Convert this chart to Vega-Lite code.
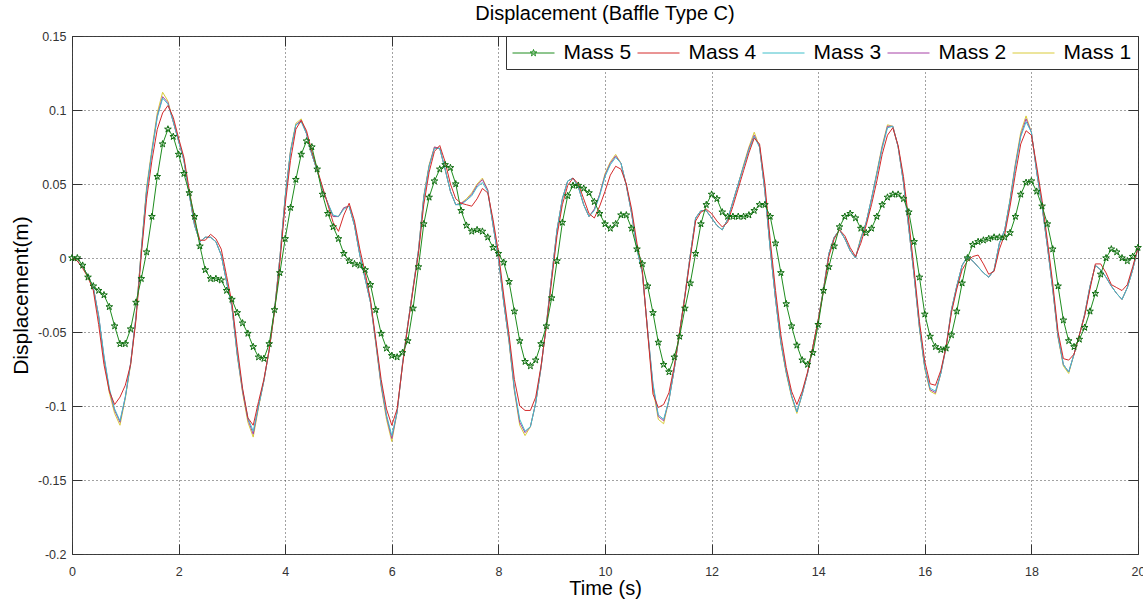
{
"$schema": "https://vega.github.io/schema/vega-lite/v6.json",
"width": 1066, "height": 518,
"autosize": {"type": "none"},
"padding": {"left": 72, "top": 36, "right": 5, "bottom": 46},
"background": "white",
"config": {"view": {"stroke": "#3a3a3a", "strokeWidth": 1}, "font": "Liberation Sans"},
"title": {"text": "Displacement (Baffle Type C)", "fontSize": 20, "fontWeight": "normal", "color": "black", "frame": "group", "anchor": "middle", "offset": 6, "font": "Liberation Sans"},
"data": {"values": [
{"t":0.0,"m1":0,"m2":0,"m3":0,"m4":0,"m5":0},
{"t":0.1,"m1":-0.002,"m2":-0.002,"m3":-0.002,"m4":-0.002,"m5":0},
{"t":0.2,"m1":-0.006,"m2":-0.006,"m3":-0.006,"m4":-0.007,"m5":-0.005},
{"t":0.3,"m1":-0.012,"m2":-0.012,"m3":-0.012,"m4":-0.013,"m5":-0.013},
{"t":0.4,"m1":-0.020,"m2":-0.020,"m3":-0.020,"m4":-0.022,"m5":-0.019},
{"t":0.5,"m1":-0.040,"m2":-0.039,"m3":-0.039,"m4":-0.045,"m5":-0.022},
{"t":0.6,"m1":-0.068,"m2":-0.067,"m3":-0.066,"m4":-0.072,"m5":-0.025},
{"t":0.7,"m1":-0.091,"m2":-0.089,"m3":-0.088,"m4":-0.090,"m5":-0.033},
{"t":0.8,"m1":-0.105,"m2":-0.103,"m3":-0.102,"m4":-0.099,"m5":-0.046},
{"t":0.9,"m1":-0.113,"m2":-0.111,"m3":-0.110,"m4":-0.094,"m5":-0.058},
{"t":1.0,"m1":-0.095,"m2":-0.094,"m3":-0.094,"m4":-0.086,"m5":-0.058},
{"t":1.1,"m1":-0.072,"m2":-0.071,"m3":-0.071,"m4":-0.072,"m5":-0.048},
{"t":1.2,"m1":-0.040,"m2":-0.040,"m3":-0.040,"m4":-0.042,"m5":-0.030},
{"t":1.3,"m1":0.006,"m2":0.005,"m3":0.005,"m4":0.002,"m5":-0.014},
{"t":1.4,"m1":0.048,"m2":0.046,"m3":0.046,"m4":0.040,"m5":0.004},
{"t":1.5,"m1":0.074,"m2":0.072,"m3":0.072,"m4":0.066,"m5":0.028},
{"t":1.6,"m1":0.098,"m2":0.096,"m3":0.095,"m4":0.087,"m5":0.055},
{"t":1.7,"m1":0.112,"m2":0.109,"m3":0.108,"m4":0.098,"m5":0.077},
{"t":1.8,"m1":0.106,"m2":0.105,"m3":0.104,"m4":0.103,"m5":0.087},
{"t":1.9,"m1":0.092,"m2":0.092,"m3":0.092,"m4":0.095,"m5":0.082},
{"t":2.0,"m1":0.079,"m2":0.079,"m3":0.079,"m4":0.081,"m5":0.070},
{"t":2.1,"m1":0.066,"m2":0.066,"m3":0.066,"m4":0.068,"m5":0.057},
{"t":2.2,"m1":0.043,"m2":0.043,"m3":0.043,"m4":0.046,"m5":0.044},
{"t":2.3,"m1":0.022,"m2":0.022,"m3":0.022,"m4":0.025,"m5":0.028},
{"t":2.4,"m1":0.011,"m2":0.011,"m3":0.011,"m4":0.012,"m5":0.008},
{"t":2.5,"m1":0.014,"m2":0.014,"m3":0.014,"m4":0.012,"m5":-0.008},
{"t":2.6,"m1":0.014,"m2":0.014,"m3":0.014,"m4":0.016,"m5":-0.014},
{"t":2.7,"m1":0.011,"m2":0.011,"m3":0.011,"m4":0.013,"m5":-0.014},
{"t":2.8,"m1":0.002,"m2":0.002,"m3":0.002,"m4":0.006,"m5":-0.015},
{"t":2.9,"m1":-0.016,"m2":-0.016,"m3":-0.016,"m4":-0.012,"m5":-0.022},
{"t":3.0,"m1":-0.033,"m2":-0.033,"m3":-0.033,"m4":-0.030,"m5":-0.028},
{"t":3.1,"m1":-0.066,"m2":-0.065,"m3":-0.065,"m4":-0.060,"m5":-0.037},
{"t":3.2,"m1":-0.091,"m2":-0.090,"m3":-0.089,"m4":-0.088,"m5":-0.044},
{"t":3.3,"m1":-0.111,"m2":-0.109,"m3":-0.108,"m4":-0.108,"m5":-0.051},
{"t":3.4,"m1":-0.121,"m2":-0.119,"m3":-0.117,"m4":-0.113,"m5":-0.060},
{"t":3.5,"m1":-0.101,"m2":-0.100,"m3":-0.100,"m4":-0.097,"m5":-0.067},
{"t":3.6,"m1":-0.083,"m2":-0.083,"m3":-0.083,"m4":-0.082,"m5":-0.068},
{"t":3.7,"m1":-0.062,"m2":-0.062,"m3":-0.062,"m4":-0.062,"m5":-0.058},
{"t":3.8,"m1":-0.035,"m2":-0.035,"m3":-0.035,"m4":-0.036,"m5":-0.035},
{"t":3.9,"m1":0.000,"m2":0.000,"m3":0.000,"m4":-0.003,"m5":-0.010},
{"t":4.0,"m1":0.042,"m2":0.041,"m3":0.041,"m4":0.036,"m5":0.013},
{"t":4.1,"m1":0.073,"m2":0.072,"m3":0.072,"m4":0.066,"m5":0.034},
{"t":4.2,"m1":0.091,"m2":0.090,"m3":0.090,"m4":0.087,"m5":0.053},
{"t":4.3,"m1":0.094,"m2":0.093,"m3":0.092,"m4":0.093,"m5":0.070},
{"t":4.4,"m1":0.084,"m2":0.084,"m3":0.084,"m4":0.086,"m5":0.079},
{"t":4.5,"m1":0.070,"m2":0.070,"m3":0.070,"m4":0.072,"m5":0.075},
{"t":4.6,"m1":0.059,"m2":0.059,"m3":0.059,"m4":0.060,"m5":0.060},
{"t":4.7,"m1":0.047,"m2":0.047,"m3":0.047,"m4":0.048,"m5":0.043},
{"t":4.8,"m1":0.037,"m2":0.037,"m3":0.037,"m4":0.036,"m5":0.030},
{"t":4.9,"m1":0.028,"m2":0.028,"m3":0.029,"m4":0.024,"m5":0.021},
{"t":5.0,"m1":0.028,"m2":0.028,"m3":0.028,"m4":0.018,"m5":0.013},
{"t":5.1,"m1":0.034,"m2":0.034,"m3":0.033,"m4":0.029,"m5":0.003},
{"t":5.2,"m1":0.035,"m2":0.035,"m3":0.035,"m4":0.037,"m5":-0.002},
{"t":5.3,"m1":0.022,"m2":0.022,"m3":0.022,"m4":0.025,"m5":-0.004},
{"t":5.4,"m1":0.002,"m2":0.002,"m3":0.002,"m4":0.006,"m5":-0.005},
{"t":5.5,"m1":-0.014,"m2":-0.014,"m3":-0.014,"m4":-0.010,"m5":-0.008},
{"t":5.6,"m1":-0.030,"m2":-0.030,"m3":-0.030,"m4":-0.028,"m5":-0.018},
{"t":5.7,"m1":-0.058,"m2":-0.057,"m3":-0.057,"m4":-0.055,"m5":-0.035},
{"t":5.8,"m1":-0.087,"m2":-0.086,"m3":-0.085,"m4":-0.082,"m5":-0.051},
{"t":5.9,"m1":-0.109,"m2":-0.107,"m3":-0.106,"m4":-0.102,"m5":-0.061},
{"t":6.0,"m1":-0.124,"m2":-0.122,"m3":-0.120,"m4":-0.113,"m5":-0.066},
{"t":6.1,"m1":-0.104,"m2":-0.104,"m3":-0.104,"m4":-0.102,"m5":-0.067},
{"t":6.2,"m1":-0.072,"m2":-0.072,"m3":-0.072,"m4":-0.073,"m5":-0.064},
{"t":6.3,"m1":-0.045,"m2":-0.045,"m3":-0.045,"m4":-0.046,"m5":-0.056},
{"t":6.4,"m1":-0.020,"m2":-0.020,"m3":-0.020,"m4":-0.021,"m5":-0.034},
{"t":6.5,"m1":0.005,"m2":0.005,"m3":0.005,"m4":0.003,"m5":-0.006},
{"t":6.6,"m1":0.042,"m2":0.041,"m3":0.041,"m4":0.036,"m5":0.023},
{"t":6.7,"m1":0.063,"m2":0.062,"m3":0.062,"m4":0.058,"m5":0.041},
{"t":6.8,"m1":0.075,"m2":0.075,"m3":0.074,"m4":0.072,"m5":0.052},
{"t":6.9,"m1":0.074,"m2":0.074,"m3":0.074,"m4":0.076,"m5":0.060},
{"t":7.0,"m1":0.060,"m2":0.060,"m3":0.060,"m4":0.065,"m5":0.063},
{"t":7.1,"m1":0.045,"m2":0.045,"m3":0.045,"m4":0.050,"m5":0.061},
{"t":7.2,"m1":0.036,"m2":0.036,"m3":0.036,"m4":0.040,"m5":0.050},
{"t":7.3,"m1":0.037,"m2":0.037,"m3":0.036,"m4":0.037,"m5":0.032},
{"t":7.4,"m1":0.040,"m2":0.039,"m3":0.039,"m4":0.036,"m5":0.022},
{"t":7.5,"m1":0.044,"m2":0.043,"m3":0.042,"m4":0.035,"m5":0.018},
{"t":7.6,"m1":0.050,"m2":0.049,"m3":0.048,"m4":0.040,"m5":0.019},
{"t":7.7,"m1":0.054,"m2":0.053,"m3":0.051,"m4":0.047,"m5":0.018},
{"t":7.8,"m1":0.046,"m2":0.046,"m3":0.045,"m4":0.044,"m5":0.014},
{"t":7.9,"m1":0.022,"m2":0.022,"m3":0.022,"m4":0.026,"m5":0.007},
{"t":8.0,"m1":0.000,"m2":0.000,"m3":0.000,"m4":0.004,"m5":0.003},
{"t":8.1,"m1":-0.030,"m2":-0.030,"m3":-0.030,"m4":-0.025,"m5":-0.003},
{"t":8.2,"m1":-0.057,"m2":-0.056,"m3":-0.056,"m4":-0.052,"m5":-0.016},
{"t":8.3,"m1":-0.090,"m2":-0.089,"m3":-0.088,"m4":-0.082,"m5":-0.036},
{"t":8.4,"m1":-0.113,"m2":-0.111,"m3":-0.109,"m4":-0.100,"m5":-0.056},
{"t":8.5,"m1":-0.120,"m2":-0.118,"m3":-0.117,"m4":-0.103,"m5":-0.070},
{"t":8.6,"m1":-0.114,"m2":-0.114,"m3":-0.114,"m4":-0.103,"m5":-0.073},
{"t":8.7,"m1":-0.098,"m2":-0.098,"m3":-0.098,"m4":-0.094,"m5":-0.069},
{"t":8.8,"m1":-0.074,"m2":-0.074,"m3":-0.074,"m4":-0.073,"m5":-0.058},
{"t":8.9,"m1":-0.045,"m2":-0.045,"m3":-0.045,"m4":-0.046,"m5":-0.046},
{"t":9.0,"m1":-0.012,"m2":-0.012,"m3":-0.012,"m4":-0.015,"m5":-0.027},
{"t":9.1,"m1":0.019,"m2":0.019,"m3":0.019,"m4":0.015,"m5":-0.002},
{"t":9.2,"m1":0.040,"m2":0.040,"m3":0.040,"m4":0.036,"m5":0.024},
{"t":9.3,"m1":0.052,"m2":0.052,"m3":0.052,"m4":0.049,"m5":0.042},
{"t":9.4,"m1":0.054,"m2":0.054,"m3":0.054,"m4":0.054,"m5":0.049},
{"t":9.5,"m1":0.048,"m2":0.048,"m3":0.048,"m4":0.050,"m5":0.049},
{"t":9.6,"m1":0.036,"m2":0.036,"m3":0.036,"m4":0.040,"m5":0.047},
{"t":9.7,"m1":0.028,"m2":0.028,"m3":0.028,"m4":0.030,"m5":0.044},
{"t":9.8,"m1":0.033,"m2":0.033,"m3":0.032,"m4":0.027,"m5":0.038},
{"t":9.9,"m1":0.043,"m2":0.043,"m3":0.042,"m4":0.035,"m5":0.030},
{"t":10.0,"m1":0.057,"m2":0.056,"m3":0.055,"m4":0.045,"m5":0.023},
{"t":10.1,"m1":0.065,"m2":0.064,"m3":0.063,"m4":0.056,"m5":0.020},
{"t":10.2,"m1":0.070,"m2":0.069,"m3":0.068,"m4":0.062,"m5":0.023},
{"t":10.3,"m1":0.064,"m2":0.064,"m3":0.064,"m4":0.060,"m5":0.029},
{"t":10.4,"m1":0.049,"m2":0.049,"m3":0.049,"m4":0.050,"m5":0.029},
{"t":10.5,"m1":0.030,"m2":0.030,"m3":0.030,"m4":0.033,"m5":0.020},
{"t":10.6,"m1":0.006,"m2":0.006,"m3":0.006,"m4":0.010,"m5":0.006},
{"t":10.7,"m1":-0.010,"m2":-0.010,"m3":-0.010,"m4":-0.008,"m5":-0.004},
{"t":10.8,"m1":-0.050,"m2":-0.049,"m3":-0.049,"m4":-0.050,"m5":-0.019},
{"t":10.9,"m1":-0.088,"m2":-0.086,"m3":-0.085,"m4":-0.092,"m5":-0.037},
{"t":11.0,"m1":-0.109,"m2":-0.107,"m3":-0.106,"m4":-0.101,"m5":-0.057},
{"t":11.1,"m1":-0.112,"m2":-0.110,"m3":-0.109,"m4":-0.099,"m5":-0.072},
{"t":11.2,"m1":-0.096,"m2":-0.096,"m3":-0.096,"m4":-0.091,"m5":-0.077},
{"t":11.3,"m1":-0.075,"m2":-0.075,"m3":-0.075,"m4":-0.073,"m5":-0.067},
{"t":11.4,"m1":-0.050,"m2":-0.050,"m3":-0.050,"m4":-0.050,"m5":-0.053},
{"t":11.5,"m1":-0.025,"m2":-0.025,"m3":-0.025,"m4":-0.026,"m5":-0.034},
{"t":11.6,"m1":0.002,"m2":0.002,"m3":0.002,"m4":0.000,"m5":-0.017},
{"t":11.7,"m1":0.027,"m2":0.027,"m3":0.027,"m4":0.025,"m5":0.003},
{"t":11.8,"m1":0.032,"m2":0.032,"m3":0.032,"m4":0.031,"m5":0.023},
{"t":11.9,"m1":0.032,"m2":0.032,"m3":0.032,"m4":0.033,"m5":0.036},
{"t":12.0,"m1":0.027,"m2":0.027,"m3":0.027,"m4":0.030,"m5":0.043},
{"t":12.1,"m1":0.022,"m2":0.022,"m3":0.022,"m4":0.025,"m5":0.040},
{"t":12.2,"m1":0.019,"m2":0.019,"m3":0.019,"m4":0.021,"m5":0.031},
{"t":12.3,"m1":0.026,"m2":0.026,"m3":0.026,"m4":0.024,"m5":0.028},
{"t":12.4,"m1":0.038,"m2":0.038,"m3":0.038,"m4":0.035,"m5":0.028},
{"t":12.5,"m1":0.050,"m2":0.050,"m3":0.050,"m4":0.047,"m5":0.028},
{"t":12.6,"m1":0.063,"m2":0.062,"m3":0.062,"m4":0.059,"m5":0.028},
{"t":12.7,"m1":0.075,"m2":0.074,"m3":0.073,"m4":0.071,"m5":0.029},
{"t":12.8,"m1":0.085,"m2":0.083,"m3":0.082,"m4":0.081,"m5":0.032},
{"t":12.9,"m1":0.075,"m2":0.075,"m3":0.075,"m4":0.077,"m5":0.036},
{"t":13.0,"m1":0.045,"m2":0.045,"m3":0.045,"m4":0.050,"m5":0.036},
{"t":13.1,"m1":0.006,"m2":0.006,"m3":0.006,"m4":0.012,"m5":0.028},
{"t":13.2,"m1":-0.028,"m2":-0.028,"m3":-0.028,"m4":-0.022,"m5":0.010},
{"t":13.3,"m1":-0.058,"m2":-0.057,"m3":-0.057,"m4":-0.052,"m5":-0.010},
{"t":13.4,"m1":-0.078,"m2":-0.077,"m3":-0.077,"m4":-0.074,"m5":-0.031},
{"t":13.5,"m1":-0.094,"m2":-0.093,"m3":-0.093,"m4":-0.090,"m5":-0.046},
{"t":13.6,"m1":-0.105,"m2":-0.104,"m3":-0.104,"m4":-0.099,"m5":-0.059},
{"t":13.7,"m1":-0.092,"m2":-0.092,"m3":-0.092,"m4":-0.090,"m5":-0.069},
{"t":13.8,"m1":-0.078,"m2":-0.078,"m3":-0.078,"m4":-0.077,"m5":-0.072},
{"t":13.9,"m1":-0.060,"m2":-0.060,"m3":-0.060,"m4":-0.060,"m5":-0.064},
{"t":14.0,"m1":-0.042,"m2":-0.042,"m3":-0.042,"m4":-0.042,"m5":-0.045},
{"t":14.1,"m1":-0.021,"m2":-0.021,"m3":-0.021,"m4":-0.022,"m5":-0.022},
{"t":14.2,"m1":0.003,"m2":0.003,"m3":0.003,"m4":0.001,"m5":-0.006},
{"t":14.3,"m1":0.014,"m2":0.014,"m3":0.014,"m4":0.013,"m5":0.008},
{"t":14.4,"m1":0.019,"m2":0.019,"m3":0.019,"m4":0.019,"m5":0.021},
{"t":14.5,"m1":0.013,"m2":0.013,"m3":0.013,"m4":0.015,"m5":0.028},
{"t":14.6,"m1":0.005,"m2":0.005,"m3":0.005,"m4":0.007,"m5":0.030},
{"t":14.7,"m1":0.000,"m2":0.000,"m3":0.000,"m4":0.001,"m5":0.027},
{"t":14.8,"m1":0.014,"m2":0.013,"m3":0.013,"m4":0.010,"m5":0.020},
{"t":14.9,"m1":0.024,"m2":0.024,"m3":0.024,"m4":0.022,"m5":0.017},
{"t":15.0,"m1":0.040,"m2":0.040,"m3":0.040,"m4":0.036,"m5":0.020},
{"t":15.1,"m1":0.058,"m2":0.057,"m3":0.057,"m4":0.052,"m5":0.028},
{"t":15.2,"m1":0.076,"m2":0.075,"m3":0.074,"m4":0.070,"m5":0.036},
{"t":15.3,"m1":0.090,"m2":0.089,"m3":0.088,"m4":0.083,"m5":0.041},
{"t":15.4,"m1":0.089,"m2":0.089,"m3":0.089,"m4":0.088,"m5":0.043},
{"t":15.5,"m1":0.075,"m2":0.075,"m3":0.075,"m4":0.076,"m5":0.043},
{"t":15.6,"m1":0.051,"m2":0.051,"m3":0.051,"m4":0.055,"m5":0.040},
{"t":15.7,"m1":0.020,"m2":0.020,"m3":0.020,"m4":0.025,"m5":0.031},
{"t":15.8,"m1":-0.012,"m2":-0.012,"m3":-0.012,"m4":-0.008,"m5":0.011},
{"t":15.9,"m1":-0.048,"m2":-0.047,"m3":-0.047,"m4":-0.043,"m5":-0.013},
{"t":16.0,"m1":-0.075,"m2":-0.074,"m3":-0.074,"m4":-0.070,"m5":-0.038},
{"t":16.1,"m1":-0.090,"m2":-0.089,"m3":-0.088,"m4":-0.085,"m5":-0.053},
{"t":16.2,"m1":-0.092,"m2":-0.091,"m3":-0.090,"m4":-0.086,"m5":-0.060},
{"t":16.3,"m1":-0.078,"m2":-0.078,"m3":-0.078,"m4":-0.076,"m5":-0.062},
{"t":16.4,"m1":-0.060,"m2":-0.060,"m3":-0.060,"m4":-0.060,"m5":-0.061},
{"t":16.5,"m1":-0.035,"m2":-0.035,"m3":-0.035,"m4":-0.037,"m5":-0.052},
{"t":16.6,"m1":-0.019,"m2":-0.019,"m3":-0.019,"m4":-0.021,"m5":-0.036},
{"t":16.7,"m1":-0.005,"m2":-0.005,"m3":-0.005,"m4":-0.008,"m5":-0.017},
{"t":16.8,"m1":0.001,"m2":0.001,"m3":0.001,"m4":-0.002,"m5":0.000},
{"t":16.9,"m1":-0.002,"m2":-0.002,"m3":-0.002,"m4":0.001,"m5":0.009},
{"t":17.0,"m1":-0.006,"m2":-0.006,"m3":-0.006,"m4":0.002,"m5":0.011},
{"t":17.1,"m1":-0.010,"m2":-0.010,"m3":-0.010,"m4":-0.004,"m5":0.012},
{"t":17.2,"m1":-0.013,"m2":-0.013,"m3":-0.013,"m4":-0.011,"m5":0.013},
{"t":17.3,"m1":-0.008,"m2":-0.008,"m3":-0.008,"m4":-0.009,"m5":0.014},
{"t":17.4,"m1":0.010,"m2":0.010,"m3":0.010,"m4":0.006,"m5":0.014},
{"t":17.5,"m1":0.019,"m2":0.019,"m3":0.019,"m4":0.016,"m5":0.014},
{"t":17.6,"m1":0.040,"m2":0.039,"m3":0.039,"m4":0.035,"m5":0.017},
{"t":17.7,"m1":0.064,"m2":0.063,"m3":0.062,"m4":0.057,"m5":0.028},
{"t":17.8,"m1":0.085,"m2":0.083,"m3":0.082,"m4":0.077,"m5":0.043},
{"t":17.9,"m1":0.096,"m2":0.094,"m3":0.092,"m4":0.086,"m5":0.051},
{"t":18.0,"m1":0.085,"m2":0.085,"m3":0.085,"m4":0.083,"m5":0.052},
{"t":18.1,"m1":0.058,"m2":0.058,"m3":0.058,"m4":0.062,"m5":0.045},
{"t":18.2,"m1":0.035,"m2":0.035,"m3":0.035,"m4":0.039,"m5":0.035},
{"t":18.3,"m1":0.008,"m2":0.008,"m3":0.008,"m4":0.012,"m5":0.023},
{"t":18.4,"m1":-0.021,"m2":-0.021,"m3":-0.021,"m4":-0.017,"m5":0.006},
{"t":18.5,"m1":-0.054,"m2":-0.053,"m3":-0.053,"m4":-0.050,"m5":-0.019},
{"t":18.6,"m1":-0.073,"m2":-0.072,"m3":-0.072,"m4":-0.068,"m5":-0.042},
{"t":18.7,"m1":-0.078,"m2":-0.077,"m3":-0.077,"m4":-0.069,"m5":-0.056},
{"t":18.8,"m1":-0.065,"m2":-0.065,"m3":-0.065,"m4":-0.065,"m5":-0.060},
{"t":18.9,"m1":-0.052,"m2":-0.052,"m3":-0.052,"m4":-0.052,"m5":-0.055},
{"t":19.0,"m1":-0.038,"m2":-0.038,"m3":-0.038,"m4":-0.039,"m5":-0.047},
{"t":19.1,"m1":-0.019,"m2":-0.019,"m3":-0.019,"m4":-0.021,"m5":-0.036},
{"t":19.2,"m1":-0.005,"m2":-0.005,"m3":-0.005,"m4":-0.004,"m5":-0.024},
{"t":19.3,"m1":-0.008,"m2":-0.008,"m3":-0.008,"m4":-0.004,"m5":-0.011},
{"t":19.4,"m1":-0.013,"m2":-0.013,"m3":-0.013,"m4":-0.010,"m5":0.000},
{"t":19.5,"m1":-0.019,"m2":-0.019,"m3":-0.019,"m4":-0.018,"m5":0.006},
{"t":19.6,"m1":-0.024,"m2":-0.024,"m3":-0.024,"m4":-0.020,"m5":0.004},
{"t":19.7,"m1":-0.028,"m2":-0.028,"m3":-0.028,"m4":-0.022,"m5":0.000},
{"t":19.8,"m1":-0.020,"m2":-0.020,"m3":-0.020,"m4":-0.018,"m5":-0.002},
{"t":19.9,"m1":-0.008,"m2":-0.008,"m3":-0.008,"m4":-0.006,"m5":0.001},
{"t":20.0,"m1":0.007,"m2":0.007,"m3":0.007,"m4":0.007,"m5":0.007}
]},
"transform": [{"fold": ["m1","m2","m3","m4","m5"], "as": ["s","v"]}],
"layer": [
{
"transform": [{"filter": "datum.s !== 'm5'"}],
"mark": {"type": "line", "strokeWidth": 1},
"encoding": {
"x": {"field": "t", "type": "quantitative", "scale": {"domain": [0,20], "nice": false, "zero": false},
 "axis": {"values": [0,2,4,6,8,10,12,14,16,18,20], "title": "Time (s)", "titleFontSize": 20, "titleFontWeight": "normal", "titleColor": "black", "titleFont": "Liberation Sans", "titlePadding": 1,
  "labelFontSize": 12.5, "labelColor": "#333", "labelFont": "Liberation Sans", "labelPadding": 21, "tickSize": -10, "tickColor": "#333", "domain": false,
  "grid": true, "gridDash": [1,3], "gridColor": "#444", "gridOpacity": 1, "labelFlush": false, "labelOverlap": false}},
"y": {"field": "v", "type": "quantitative", "scale": {"domain": [-0.2,0.15], "nice": false, "zero": false},
 "axis": {"values": [-0.2,-0.15,-0.1,-0.05,0,0.05,0.1,0.15], "labelExpr": "'' + datum.value", "title": "Displacement(m)", "titleFontSize": 21, "titleFontWeight": "normal", "titleColor": "black", "titleFont": "Liberation Sans", "titlePadding": 6,
  "labelFontSize": 12.5, "labelColor": "#333", "labelFont": "Liberation Sans", "labelPadding": 16, "tickSize": -10, "tickColor": "#333", "domain": false,
  "grid": true, "gridDash": [1,3], "gridColor": "#444", "gridOpacity": 1, "labelFlush": false, "labelOverlap": false}},
"color": {"field": "s", "type": "nominal", "scale": {"domain": ["m5","m4","m3","m2","m1"], "range": ["#1e8c1e","#d42a2a","#3fbfca","#a640a6","#d9cb3a"]},
 "legend": {"title": null, "orient": "top-right", "direction": "horizontal", "offset": 0,
  "labelExpr": "'Mass ' + substring(datum.label, 1)",
  "labelFont": "Liberation Sans", "labelFontSize": 21, "labelColor": "black",
  "symbolType": "M-2,0H2", "symbolSize": 441, "symbolStrokeWidth": 1, "symbolOffset": 10.5,
  "padding": 6, "columnPadding": 3, "labelOffset": 19,
  "strokeColor": "#333", "fillColor": "white",
  "encode": {"symbols": {"update": {"shape": {"signal": "datum.value === 'm5' ? 'M-2,0H2M0,-0.333L0.075,-0.103L0.317,-0.103L0.121,0.039L0.196,0.27L0,0.127L-0.196,0.27L-0.121,0.039L-0.317,-0.103L-0.075,-0.103Z' : 'M-2,0H2'"}}}}}}
}
},
{
"transform": [{"filter": "datum.s === 'm5'"}],
"mark": {"type": "line", "strokeWidth": 1, "color": "#1e8c1e"},
"encoding": {
"x": {"field": "t", "type": "quantitative", "axis": null},
"y": {"field": "v", "type": "quantitative", "axis": null}
}
},
{
"transform": [{"filter": "datum.s === 'm5'"}],
"mark": {"type": "point", "shape": "M0,-1L0.225,-0.309L0.951,-0.309L0.363,0.118L0.588,0.809L0,0.382L-0.588,0.809L-0.363,0.118L-0.951,-0.309L-0.225,-0.309Z", "size": 49, "filled": false, "stroke": "#0d6b0d", "strokeWidth": 1, "opacity": 1},
"encoding": {
"x": {"field": "t", "type": "quantitative", "axis": {"orient": "top", "values": [0,2,4,6,8,10,12,14,16,18,20], "labels": false, "domain": false, "grid": false, "title": null, "tickSize": -10, "tickColor": "#333"}},
"y": {"field": "v", "type": "quantitative", "axis": {"orient": "right", "values": [-0.2,-0.15,-0.1,-0.05,0,0.05,0.1,0.15], "labels": false, "domain": false, "grid": false, "title": null, "tickSize": -10, "tickColor": "#333"}}
}
}
],
"resolve": {"axis": {"x": "independent", "y": "independent"}}
}
